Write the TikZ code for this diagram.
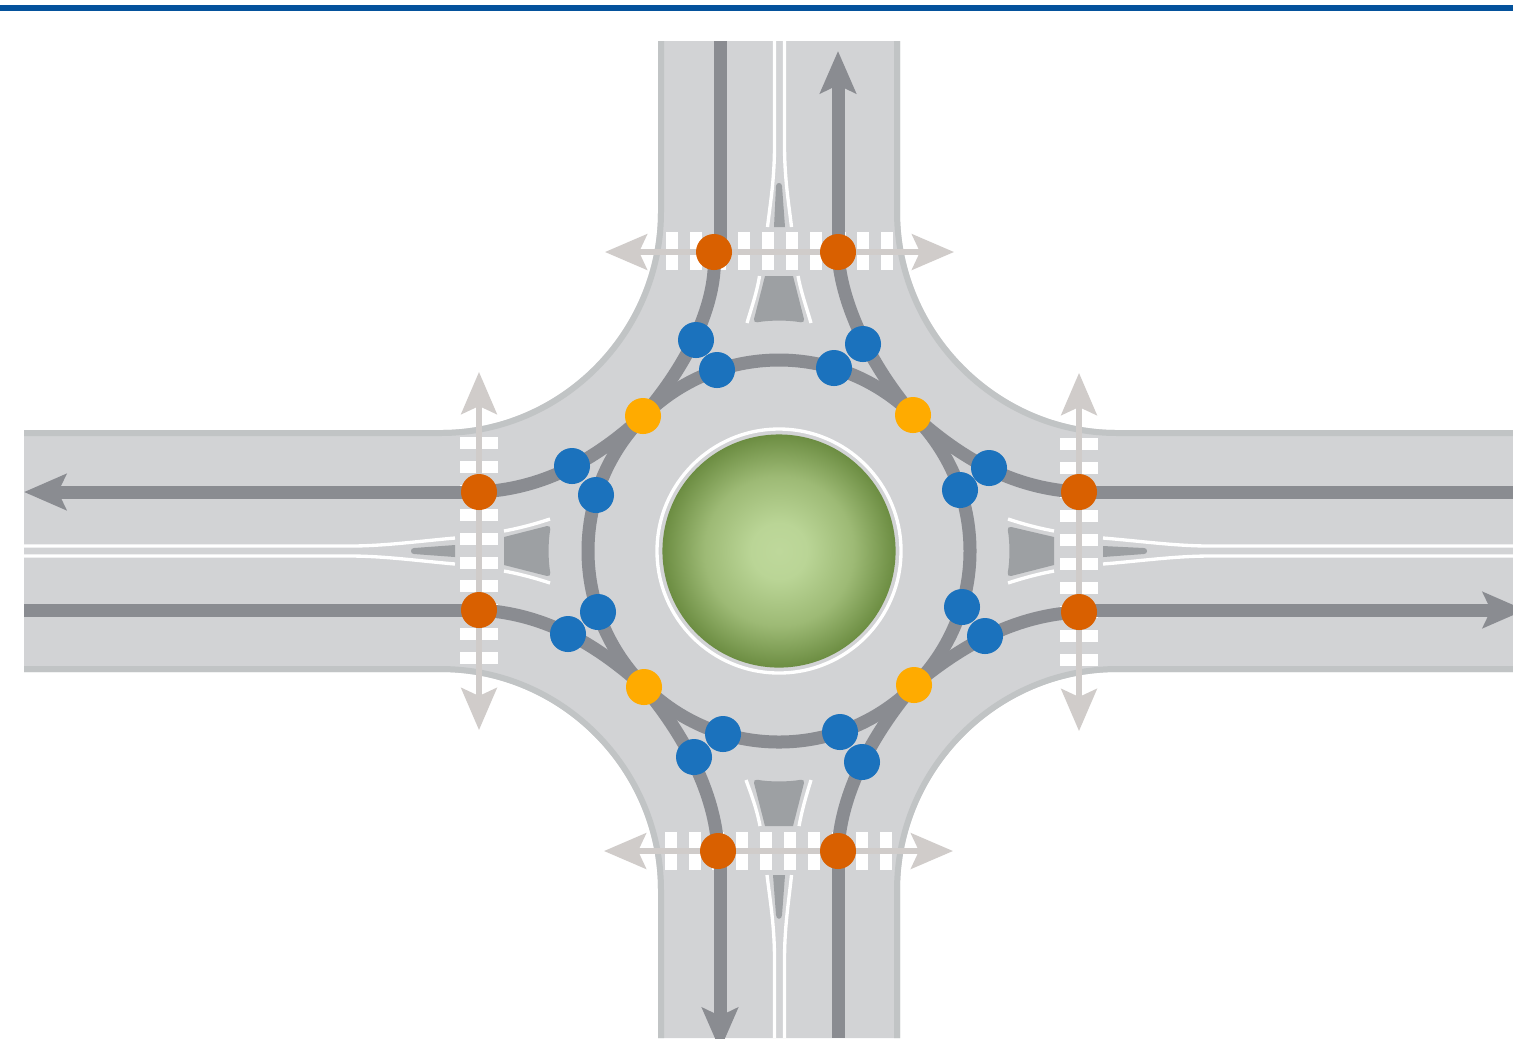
\documentclass[tikz,border=0pt]{standalone}
\usepackage{xcolor}
\usepackage{tikz}
\usetikzlibrary{arrows.meta,backgrounds}
\definecolor{roadgray}{RGB}{210,211,213}
\definecolor{curbgray}{RGB}{193,196,197}
\definecolor{lanegray}{RGB}{138,140,145}
\definecolor{splitgray}{RGB}{157,160,163}
\definecolor{pedgray}{RGB}{208,204,202}
\definecolor{crossorange}{RGB}{217,96,0}
\definecolor{divergeblue}{RGB}{27,114,189}
\definecolor{mergeyellow}{RGB}{255,171,0}
\definecolor{barblue}{RGB}{4,82,156}
\pgfdeclareradialshading{grassball}{\pgfpointorigin}{
  rgb(0bp)=(0.745,0.847,0.608);
  rgb(6bp)=(0.729,0.835,0.588);
  rgb(16bp)=(0.616,0.729,0.459);
  rgb(25bp)=(0.424,0.553,0.259);
  rgb(50bp)=(0.424,0.553,0.259)}
\tikzset{
  conflict/.style={circle,inner sep=0pt,minimum size=0.36cm},
  crossing/.style={conflict,fill=crossorange},
  diverge/.style={conflict,fill=divergeblue},
  merge/.style={conflict,fill=mergeyellow},
  lane/.style={draw=lanegray,line width=3.7pt},
  curb/.style={draw=curbgray,line width=1.7pt},
  marking/.style={draw=white,line width=0.95pt},
  pedway/.style={draw=pedgray,line width=1.7pt},
  splitter/.style={fill=splitgray},
}

\begin{document}
\begin{tikzpicture}[x=0.01cm,y=-0.01cm,>={Stealth[length=0.42cm,width=0.355cm,inset=0.08cm]}]
  \useasboundingbox (0,0) rectangle (1513,1038);
  % conflict points
  \node[crossing] (orTL) at (714,252) {};
  \node[crossing] (orTR) at (838,252) {};
  \node[crossing] (orBL) at (718,851) {};
  \node[crossing] (orBR) at (838,851) {};
  \node[crossing] (orLT) at (479,492) {};
  \node[crossing] (orLB) at (479,610) {};
  \node[crossing] (orRT) at (1079,492) {};
  \node[crossing] (orRB) at (1079,612) {};
  \foreach \bname/\bx/\by in {blA/696/340,blB/717/370,blC/834/368,blD/863/344,
      blE/572/466,blF/596/495,blG/960/490,blH/989/468,
      blI/598/612,blJ/568/634,blK/962/607,blL/985/636,
      blM/723/734,blN/694/757,blO/840/732,blP/862/762} {
    \node[diverge] (\bname) at (\bx,\by) {};
  }
  \node[merge] (yeTL) at (643,416) {};
  \node[merge] (yeTR) at (913,415) {};
  \node[merge] (yeBL) at (644,687) {};
  \node[merge] (yeBR) at (914,685) {};
  % central island
  \node[circle,inner sep=0pt,minimum size=2.33cm,shading=grassball] (island) at (779,551) {};
  % free ends
  \coordinate (endT) at (720,41);
  \coordinate (tipT) at (838,51);
  \coordinate (tipB) at (720,1050);
  \coordinate (endB) at (838,1038);
  \coordinate (tipL) at (24,492);
  \coordinate (endL) at (24,610);
  \coordinate (endR) at (1513,492);
  \coordinate (tipR) at (1525,610);
  \coordinate (pedTw) at (605,252);
  \coordinate (pedTe) at (954,252);
  \coordinate (pedBw) at (604,851);
  \coordinate (pedBe) at (953,851);
  \coordinate (pedLn) at (479,372);
  \coordinate (pedLs) at (479,730);
  \coordinate (pedRn) at (1079,373);
  \coordinate (pedRs) at (1079,731);
  \begin{scope}[on background layer]
    \fill[white] (0,0) rectangle (1513,1038);
    \fill[barblue] (0,4.5) rectangle (1513,10.5);
    % road surface
    \fill[roadgray] (658,41) -- (658,212) .. controls (658,331) and (560,430) .. (441,430)
      -- (24,430) -- (24,672) -- (441,672) .. controls (560,672) and (658,770) .. (658,890)
      -- (658,1038) -- (900,1038) -- (900,890) .. controls (900,770) and (998,672) .. (1117,672)
      -- (1513,672) -- (1513,430) -- (1117,430) .. controls (998,430) and (900,331) .. (900,212)
      -- (900,41) -- cycle;
    % curbs
    \draw[curb] (661,41) -- (661,212) .. controls (661,333) and (562,433) .. (441,433) -- (24,433);
    \draw[curb] (897,41) -- (897,212) .. controls (897,333) and (996,433) .. (1117,433) -- (1513,433);
    \draw[curb] (24,669) -- (441,669) .. controls (562,669) and (661,769) .. (661,890) -- (661,1038);
    \draw[curb] (1513,669) -- (1117,669) .. controls (996,669) and (897,769) .. (897,890) -- (897,1038);
    % crosswalk blocks
    \foreach \sx in {666,690,714,738,762,786,810,834,857,881} {
      \fill[white] (\sx,232) rectangle ++(12,38);
    }
    \foreach \sx in {665,689,712,736,760,784,808,832,856,880} {
      \fill[white] (\sx,832) rectangle ++(12,38);
    }
    \foreach \sy in {437,461,485,509,533,557,580,604,628,652} {
      \fill[white] (460,\sy) rectangle ++(38,12);
    }
    \foreach \sy in {438,462,486,510,534,558,582,606,630,654} {
      \fill[white] (1060,\sy) rectangle ++(38,12);
    }
    % splitter islands
    \fill[splitter] (774,227) -- (776,186) .. controls (776,182) and (782,182) .. (782,186) -- (785,227) -- cycle;
    \fill[splitter] (765,276) [rounded corners=1.2pt] -- (753,323) .. controls (770,320) and (788,320) .. (805,323) [sharp corners] -- (793,276) -- cycle;
    \fill[splitter] (773,875) -- (776,915) .. controls (776,920) and (782,920) .. (782,915) -- (785,875) -- cycle;
    \fill[splitter] (765,826) [rounded corners=1.2pt] -- (753,779) .. controls (770,782) and (788,782) .. (805,779) [sharp corners] -- (793,826) -- cycle;
    \fill[splitter] (455,545) -- (414,548) .. controls (410,548) and (410,554) .. (414,554) -- (455,557) -- cycle;
    \fill[splitter] (504,537) [rounded corners=1.2pt] -- (551,525) .. controls (548,542) and (548,560) .. (551,577) [sharp corners] -- (504,565) -- cycle;
    \fill[splitter] (1103,546) -- (1144,548) .. controls (1148,548) and (1148,554) .. (1144,554) -- (1103,557) -- cycle;
    \fill[splitter] (1054,537) [rounded corners=1.2pt] -- (1007,526) .. controls (1010,542) and (1010,560) .. (1007,577) [sharp corners] -- (1054,565) -- cycle;
    % lane markings
    \draw[marking] (774.5,41) -- (774.5,145) .. controls (774.5,180) and (770,205) .. (767.5,227);
    \draw[marking] (784.5,41) -- (784.5,145) .. controls (784.5,180) and (789,205) .. (791.5,227);
    \draw[marking] (759.5,276) .. controls (757,292) and (752,306) .. (747,323);
    \draw[marking] (798,276) .. controls (801,292) and (806,306) .. (811,323);
    \draw[marking] (774.5,1038) -- (774.5,960) .. controls (774.5,925) and (770,900) .. (767,875);
    \draw[marking] (784.5,1038) -- (784.5,960) .. controls (784.5,925) and (789,900) .. (791.5,875);
    \draw[marking] (760,826) .. controls (757,810) and (752,796) .. (746,780);
    \draw[marking] (799,826) .. controls (802,810) and (806,796) .. (811,780);
    \draw[marking] (24,546) -- (350,546) .. controls (385,546) and (420,541) .. (455,538);
    \draw[marking] (24,556) -- (350,556) .. controls (385,556) and (420,561) .. (455,564);
    \draw[marking] (504,531) .. controls (520,528) and (535,524) .. (550,519);
    \draw[marking] (504,571) .. controls (520,574) and (535,578) .. (550,583);
    \draw[marking] (1008,519) .. controls (1023,524) and (1038,528) .. (1054,531);
    \draw[marking] (1008,583) .. controls (1023,578) and (1038,574) .. (1054,571);
    \draw[marking] (1103,538) .. controls (1140,541) and (1175,546) .. (1210,546) -- (1513,546);
    \draw[marking] (1103,564) .. controls (1140,561) and (1175,556) .. (1210,556) -- (1513,556);
    \draw[marking] (island.center) circle[radius=122];
    % circulating lane
    \draw[lane] (island.center) circle[radius=191];
    % approach lanes
    \draw[lane] (endT) -- (endT |- orTL);
    \draw[lane,->] (orTR.center) -- (tipT);
    \draw[lane,->] (tipB |- orBL) -- (tipB);
    \draw[lane] (orBR.center) -- (endB);
    \draw[lane,->] (orLT.center) -- (tipL);
    \draw[lane] (orLB.center) -- (endL);
    \draw[lane] (orRT.center) -- (endR);
    \draw[lane,->] (orRB.center |- tipR) -- (tipR);
    % entry and exit curves
    \draw[lane] (orTL.center) .. controls (718,300) and (690,362) .. (yeTL.center);
    \draw[lane] (orTR.center) .. controls (840,300) and (868,362) .. (yeTR.center);
    \draw[lane] (orLT.center) .. controls (540,489) and (592,463) .. (yeTL.center);
    \draw[lane] (orLB.center) .. controls (540,613) and (592,640) .. (yeBL.center);
    \draw[lane] (orRT.center) .. controls (1018,489) and (966,463) .. (yeTR.center);
    \draw[lane] (orRB.center) .. controls (1018,615) and (966,642) .. (yeBR.center);
    \draw[lane] (orBL.center) .. controls (716,800) and (690,742) .. (yeBL.center);
    \draw[lane] (orBR.center) .. controls (840,800) and (866,742) .. (yeBR.center);
    % pedestrian crossings
    \draw[pedway,<->] (pedTw) -- (pedTe);
    \draw[pedway,<->] (pedBw) -- (pedBe);
    \draw[pedway,<->] (pedLn) -- (pedLs);
    \draw[pedway,<->] (pedRn) -- (pedRs);
  \end{scope}
\end{tikzpicture}
\end{document}
